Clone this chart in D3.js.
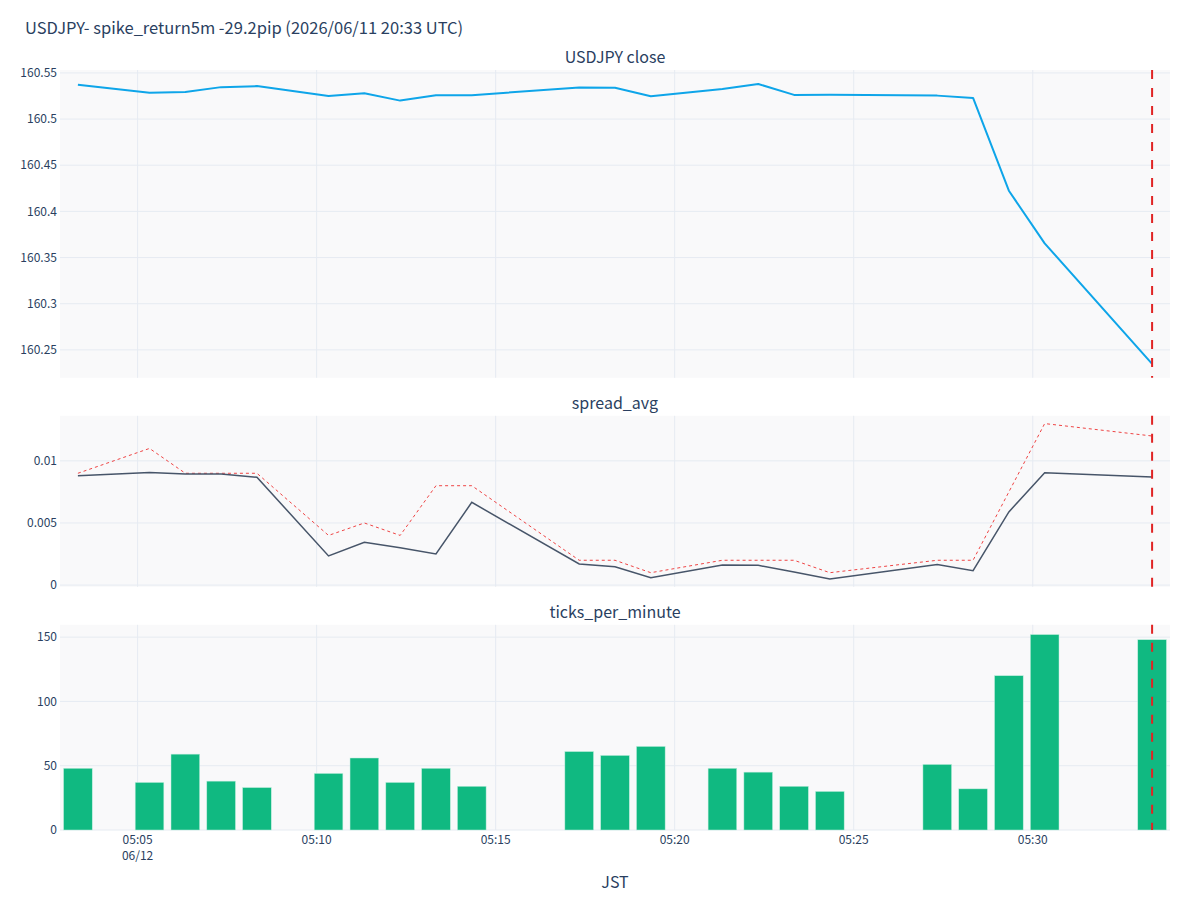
<!DOCTYPE html>
<html>
<head>
<meta charset="utf-8">
<script src="https://cdn.jsdelivr.net/npm/d3@7"></script>
<style>
  body { margin: 0; background: #fff; }
  svg { display: block; font-family: "Noto Sans CJK JP", "Noto Sans", sans-serif; }
</style>
</head>
<body>
<svg id="chart" width="1200" height="900"></svg>
<script>
// minute buckets (JST), only the minutes that have data
const times = ["05:03:20","05:05:20","05:06:20","05:07:20","05:08:20","05:10:20","05:11:20",
  "05:12:20","05:13:20","05:14:20","05:17:20","05:18:20","05:19:20","05:21:20","05:22:20",
  "05:23:20","05:24:20","05:27:20","05:28:20","05:29:20","05:30:20","05:33:20"];
const closes = [160.5372, 160.5284, 160.5292, 160.5346, 160.5357, 160.5251, 160.528,
  160.520, 160.5259, 160.5259, 160.5342, 160.5339, 160.5248, 160.5325, 160.538, 160.5262,
  160.5264, 160.5254, 160.5229, 160.4224, 160.3654, 160.2349];
const spreadAvg = [0.00881, 0.00906, 0.00895, 0.00895, 0.00868, 0.00235, 0.00345, 0.0030,
  0.00251, 0.00666, 0.0017, 0.00148, 0.00059, 0.00162, 0.00159, 0.00105, 0.00049, 0.00165,
  0.00116, 0.00589, 0.00905, 0.0087];
const spreadMax = [0.009, 0.011, 0.009, 0.009, 0.009, 0.004, 0.005, 0.004, 0.008, 0.008,
  0.002, 0.002, 0.001, 0.002, 0.002, 0.002, 0.001, 0.002, 0.002, 0.0075, 0.013, 0.012];
const ticksPerMin = [48, 37, 59, 38, 33, 44, 56, 37, 48, 34, 61, 58, 65, 48, 45, 34, 30,
  51, 32, 120, 152, 148];
const spikeTime = "05:33:20";
const titleText = "USDJPY- spike_return5m -29.2pip (2026/06/11 20:33 UTC)";
const panelTitles = ["USDJPY close", "spread_avg", "ticks_per_minute"];

const day = "2026-06-12T";
const parse = s => new Date(day + s + "Z");
const data = times.map((t, i) => ({
  t: parse(t), close: closes[i], avg: spreadAvg[i], max: spreadMax[i], ticks: ticksPerMin[i]
}));

const W = 1200, H = 900;
const ml = 60, mr = 30, mt = 70, mb = 70;
const textColor = "#2a3f5f", gridColor = "#e6ebf2", plotBg = "#f9f9fa";

const svg = d3.select("#chart");

// row layout like make_subplots(row_heights=[.45,.25,.3], vertical_spacing=.05)
const rowFrac = [0.45, 0.25, 0.30], vspace = 0.05;
const plotH = H - mt - mb;
const avail = plotH * (1 - vspace * (rowFrac.length - 1));
let yTop = mt;
const rows = rowFrac.map(f => {
  const r = { top: yTop, bottom: yTop + avail * f };
  yTop = r.bottom + plotH * vspace;
  return r;
});

// x range pads half a minute each side (bar autorange)
const halfMin = 30 * 1000;
const x = d3.scaleUtc()
  .domain([new Date(+data[0].t - halfMin), new Date(+data[data.length - 1].t + halfMin)])
  .range([ml, W - mr]);
const xTicks = x.ticks(d3.utcMinute.every(5));
const minW = x(new Date(+data[0].t + 60000)) - x(data[0].t);

function padded(lo, hi, p) {
  const d = hi - lo;
  return [lo - d * p, hi + d * p];
}

const y1 = d3.scaleLinear()
  .domain(padded(d3.min(closes), d3.max(closes), 0.05))
  .range([rows[0].bottom, rows[0].top]);
const spreadAll = spreadAvg.concat(spreadMax);
const y2 = d3.scaleLinear()
  .domain(padded(d3.min(spreadAll), d3.max(spreadAll), 0.05))
  .range([rows[1].bottom, rows[1].top]);
const y3 = d3.scaleLinear()
  .domain([0, d3.max(ticksPerMin) * 1.05])
  .range([rows[2].bottom, rows[2].top]);

const panels = [
  { y: y1, n: 7, fmt: d3.format(".2~f") },
  { y: y2, n: 3, fmt: d3.format(".3~f") },
  { y: y3, n: 4, fmt: d3.format("d") }
];

panels.forEach((p, i) => {
  const r = rows[i];
  const g = svg.append("g");
  g.append("rect")
    .attr("x", ml).attr("y", r.top)
    .attr("width", W - mr - ml).attr("height", r.bottom - r.top)
    .attr("fill", plotBg);

  g.selectAll(".xg").data(xTicks).join("line")
    .attr("x1", d => x(d)).attr("x2", d => x(d))
    .attr("y1", r.top).attr("y2", r.bottom)
    .attr("stroke", gridColor).attr("stroke-width", 1);

  const yt = p.y.ticks(p.n).filter(v => p.y(v) <= r.bottom + 0.5 && p.y(v) >= r.top);
  g.selectAll(".yg").data(yt).join("line")
    .attr("x1", ml).attr("x2", W - mr)
    .attr("y1", d => p.y(d)).attr("y2", d => p.y(d))
    .attr("stroke", gridColor).attr("stroke-width", 1);

  g.selectAll(".yl").data(yt).join("text")
    .attr("x", ml - 3).attr("y", d => p.y(d))
    .attr("dy", "0.35em")
    .attr("text-anchor", "end")
    .attr("font-size", 12)
    .attr("fill", textColor)
    .text(d => p.fmt(d));

  svg.append("text")
    .attr("x", (ml + W - mr) / 2).attr("y", r.top - 7)
    .attr("text-anchor", "middle")
    .attr("font-size", 16)
    .attr("fill", textColor)
    .text(panelTitles[i]);
});

// close price
svg.append("path")
  .datum(data)
  .attr("fill", "none")
  .attr("stroke", "#0ea5e9")
  .attr("stroke-width", 2)
  .attr("stroke-linejoin", "round")
  .attr("d", d3.line().x(d => x(d.t)).y(d => y1(d.close)));

// spread
svg.append("path")
  .datum(data)
  .attr("fill", "none")
  .attr("stroke", "#ef4444")
  .attr("stroke-width", 1)
  .attr("stroke-dasharray", "3,3")
  .attr("d", d3.line().x(d => x(d.t)).y(d => y2(d.max)));
svg.append("path")
  .datum(data)
  .attr("fill", "none")
  .attr("stroke", "#475569")
  .attr("stroke-width", 1.5)
  .attr("d", d3.line().x(d => x(d.t)).y(d => y2(d.avg)));

// ticks per minute
const bw = minW * 0.8;
svg.append("g")
  .selectAll("rect")
  .data(data)
  .join("rect")
    .attr("x", d => x(d.t) - bw / 2)
    .attr("y", d => y3(d.ticks))
    .attr("width", bw)
    .attr("height", d => y3(0) - y3(d.ticks))
    .attr("fill", "#10b981")
    .attr("stroke", "#bfeedd")
    .attr("stroke-width", 0.5);

// spike marker in every row
const sx = x(parse(spikeTime));
rows.forEach(r => {
  svg.append("line")
    .attr("x1", sx).attr("x2", sx)
    .attr("y1", r.top).attr("y2", r.bottom)
    .attr("stroke", "#e02424")
    .attr("stroke-width", 2)
    .attr("stroke-dasharray", "9,9");
});

// x tick labels (bottom row only)
const lastRow = rows[rows.length - 1];
const xl = svg.append("g").attr("font-size", 12).attr("fill", textColor).attr("text-anchor", "middle");
xTicks.forEach((t, i) => {
  const tx = xl.append("text").attr("x", x(t)).attr("y", lastRow.bottom + 14);
  tx.append("tspan").text(d3.utcFormat("%H:%M")(t));
  if (i === 0) {
    tx.append("tspan").attr("x", x(t)).attr("dy", 16).text(d3.utcFormat("%m/%d")(t));
  }
});

svg.append("text")
  .attr("x", (ml + W - mr) / 2).attr("y", lastRow.bottom + 58)
  .attr("text-anchor", "middle")
  .attr("font-size", 16)
  .attr("fill", textColor)
  .text("JST");

svg.append("text")
  .attr("x", 25).attr("y", 34)
  .attr("font-size", 16.5)
  .attr("fill", textColor)
  .text(titleText);
</script>
</body>
</html>
